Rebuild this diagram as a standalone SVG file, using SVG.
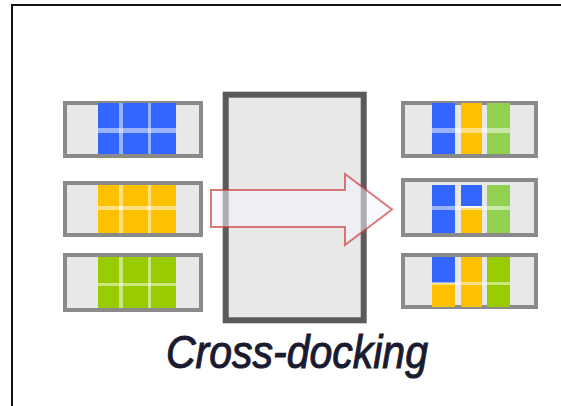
<svg xmlns="http://www.w3.org/2000/svg" width="561" height="406" viewBox="0 0 561 406">
<style>
.box{fill:#e8e8e8;stroke:#8a8a8a;stroke-width:4}
.b{fill:#3366ff}.y{fill:#ffc000}.g{fill:#99cc00}.lg{fill:#92d050}
.gap{fill:#ffffff;opacity:0.5}
.lbl{font-family:"Liberation Sans",Arial,sans-serif;font-style:italic;font-size:41px;fill:#1a1a30;stroke:#1a1a30;stroke-width:0.9}
</style>
<rect width="561" height="406" fill="#ffffff"/>
<path d="M12,406 V5 H561" fill="none" stroke="#111" stroke-width="2"/>

<g id="warehouse">
<rect x="225.7" y="94.7" width="138" height="225.6" fill="#e8e8e8" stroke="#5a5a5a" stroke-width="6"/>
</g>

<g id="in-blue">
<rect class="box" x="65" y="103" width="136" height="53"/>
<rect class="b" x="98" y="103" width="78" height="51"/>
<rect class="gap" x="119" y="103" width="4" height="51"/><rect class="gap" x="148" y="103" width="3" height="51"/>
<rect class="gap" x="98" y="128" width="78" height="5"/>
</g>
<g id="in-yellow">
<rect class="box" x="65" y="183" width="136" height="52"/>
<rect class="y" x="98" y="185" width="78" height="48"/>
<rect class="gap" x="119" y="185" width="4" height="48"/><rect class="gap" x="148" y="185" width="3" height="48"/>
<rect class="gap" x="98" y="206" width="78" height="4"/>
</g>
<g id="in-green">
<rect class="box" x="65" y="255" width="136" height="55"/>
<rect class="g" x="98" y="257" width="78" height="51"/>
<rect class="gap" x="119" y="257" width="4" height="51"/><rect class="gap" x="148" y="257" width="3" height="51"/>
<rect class="gap" x="98" y="283" width="78" height="3"/>
</g>

<g id="out-1">
<rect class="box" x="403" y="103" width="133" height="53"/>
<rect class="b" x="432" y="103" width="23" height="51"/>
<rect class="y" x="461" y="103" width="21" height="51"/>
<rect class="lg" x="487" y="103" width="23" height="51"/>
<rect class="gap" x="432" y="128" width="78" height="5"/>
</g>
<g id="out-2">
<rect class="box" x="403" y="180" width="133" height="55"/>
<rect class="b" x="432" y="185" width="23" height="48"/>
<rect class="b" x="461" y="185" width="21" height="21"/>
<rect class="y" x="461" y="208" width="21" height="25"/>
<rect class="lg" x="487" y="185" width="23" height="48"/>
<rect class="gap" x="432" y="206" width="78" height="4"/>
</g>
<g id="out-3">
<rect class="box" x="403" y="255" width="133" height="52"/>
<rect class="b" x="432" y="257" width="23" height="26"/>
<rect class="y" x="432" y="283" width="23" height="24"/>
<rect class="y" x="461" y="257" width="21" height="50"/>
<rect class="g" x="487" y="257" width="23" height="50"/>
<rect class="gap" x="432" y="282" width="78" height="3"/>
</g>

<g id="connectors">
<polygon points="211,190 345,190 345,174 392,209.5 345,245 345,227 211,227" fill="#f2f2ff" fill-opacity="0.55" stroke="#cc3333" stroke-opacity="0.65" stroke-width="2"/>
</g>

<g id="label">
<text class="lbl" transform="translate(166,368) scale(1,1.13)">Cross-docking</text>
</g>
</svg>
